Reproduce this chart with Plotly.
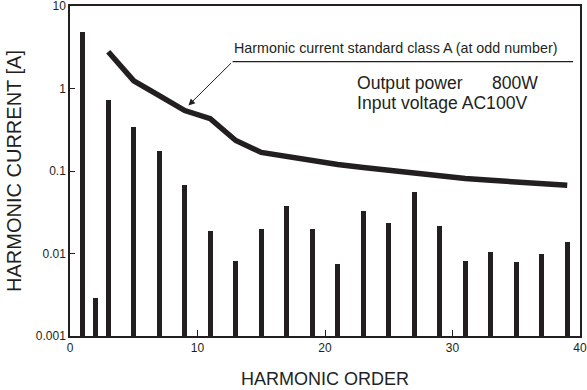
import plotly.graph_objects as go

# Measured harmonic currents (A) at 800 W output, AC100V input
orders = [1, 2, 3, 5, 7, 9, 11, 13, 15, 17, 19, 21, 23, 25, 27, 29, 31, 33, 35, 37, 39]
currents = [4.86, 0.0029, 0.72, 0.345, 0.173, 0.068, 0.0189, 0.0081, 0.0198, 0.038,
            0.020, 0.0074, 0.033, 0.0234, 0.056, 0.0217, 0.0082, 0.0103, 0.0080, 0.0100, 0.0138]

# Harmonic current standard, class A (odd orders)
limit_orders = [3, 5, 7, 9, 11, 13, 15, 17, 19, 21, 23, 25, 27, 29, 31, 33, 35, 37, 39]
limit_values = [2.79, 1.24, 0.82, 0.54, 0.43, 0.234, 0.168, 0.149, 0.133, 0.120, 0.110,
                0.101, 0.094, 0.087, 0.081, 0.077, 0.073, 0.070, 0.067]

x_ticks = [0, 10, 20, 30, 40]
y_ticks = [0.001, 0.01, 0.1, 1, 10]
y_tick_text = ["0.001", "0.01", "0.1", "1", "10"]

INK = "#231f20"
FONT = "Liberation Sans, Arial, Helvetica, sans-serif"

fig = go.Figure()
fig.add_trace(go.Bar(x=orders, y=currents, width=0.37, marker=dict(color=INK, line=dict(width=0)),
                     showlegend=False))
fig.add_trace(go.Scatter(x=limit_orders, y=limit_values, mode="lines",
                         line=dict(color=INK, width=5.5), showlegend=False))

# label anchor positions: x in harmonic order, y as log10 of current
lbl_x0, lbl_x1, lbl_y = 12.75, 39.46, 0.325
head_x, head_y = 9.29, -0.205

fig.add_annotation(x=lbl_x0 - 0.05, y=0.488, xref="x", yref="y",
                   text="Harmonic current standard class A (at odd number)",
                   showarrow=False, xanchor="left", yanchor="middle",
                   font=dict(family=FONT, size=14.3, color=INK))
fig.add_shape(type="line", xref="x", yref="y", x0=lbl_x0, x1=lbl_x1,
              y0=10 ** lbl_y, y1=10 ** lbl_y, line=dict(color=INK, width=1.2))
fig.add_annotation(x=head_x, y=head_y, xref="x", yref="y", ax=lbl_x0, ay=lbl_y,
                   axref="x", ayref="y", text="", showarrow=True,
                   arrowhead=2, arrowsize=1.3, arrowwidth=1, arrowcolor=INK)

fig.add_annotation(x=22.33, y=-3 + (336 - 81) / 83, xref="x", yref="y",
                   text="Output power\u00a0\u00a0\u00a0\u00a0\u00a0 800W", showarrow=False,
                   xanchor="left", yanchor="middle", font=dict(family=FONT, size=17.6, color=INK))
fig.add_annotation(x=22.33, y=-3 + (336 - 101.5) / 83, xref="x", yref="y",
                   text="Input voltage AC100V", showarrow=False,
                   xanchor="left", yanchor="middle", font=dict(family=FONT, size=17.6, color=INK))

fig.update_xaxes(range=[0, 40], tickvals=x_ticks, ticks="inside", ticklen=6, tickwidth=1,
                 tickcolor=INK, showline=True, linecolor=INK, linewidth=1.5, mirror=True,
                 showgrid=False, zeroline=False, automargin=False,
                 tickfont=dict(family=FONT, size=12, color=INK),
                 title=dict(text="HARMONIC ORDER", font=dict(family=FONT, size=18, color=INK),
                            standoff=18))
fig.update_yaxes(type="log", range=[-3, 1], tickvals=y_ticks, ticktext=y_tick_text,
                 ticks="inside", ticklen=5, tickwidth=1, tickcolor=INK,
                 ticklabeloverflow="allow", automargin=False,
                 showline=True, linecolor=INK, linewidth=1.5, mirror=True,
                 showgrid=False, zeroline=False,
                 tickfont=dict(family=FONT, size=12, color=INK),
                 title=dict(text="HARMONIC CURRENT [A]", font=dict(family=FONT, size=20, color=INK),
                            standoff=9))

fig.update_layout(width=587, height=390, margin=dict(l=70, r=7, t=6, b=54),
                  paper_bgcolor="white", plot_bgcolor="white", bargap=0)

fig.write_html("out.html")
